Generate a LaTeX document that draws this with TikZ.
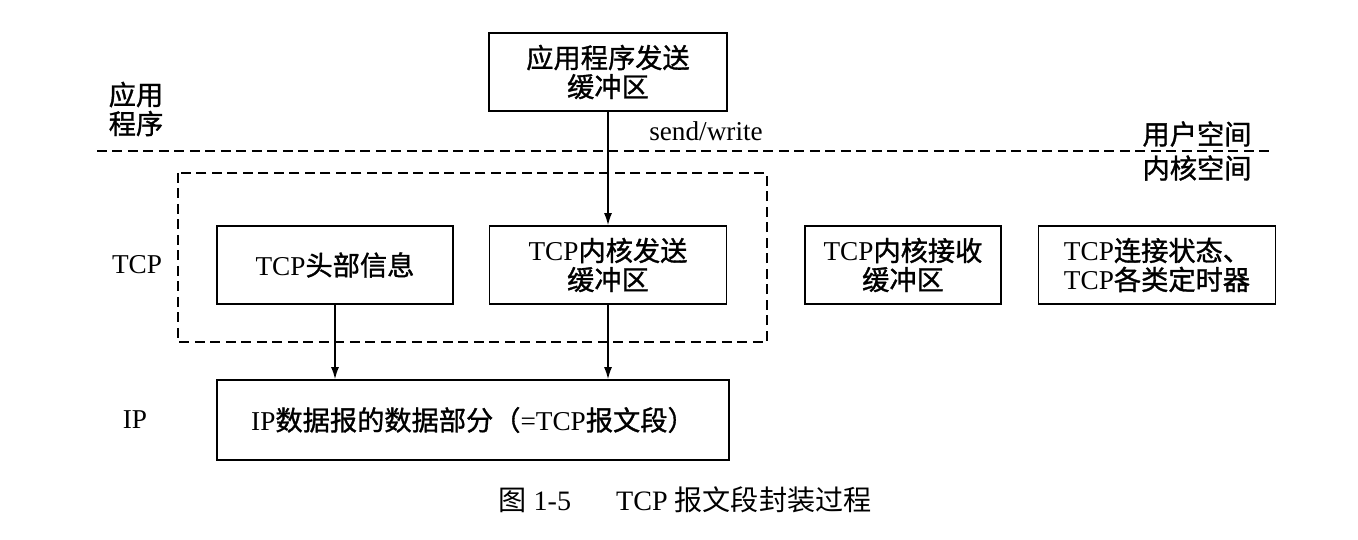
\documentclass[tikz,border=0pt]{standalone}
\usepackage{fontspec}
\usetikzlibrary{arrows.meta}
\setmainfont{Liberation Serif}
\newfontfamily\zhfont{Noto Sans CJK SC}[FakeBold=1.2]
\newfontfamily\zhplain{Noto Sans CJK SC}
\newcommand{\zh}[1]{{\zhfont #1}}
\tikzset{
  buf/.style={draw,line width=1pt,minimum height=1.56cm,align=center,inner sep=2pt,font=\fontsize{15.5}{16.5}\selectfont},
  lbl/.style={align=center,font=\fontsize{15.5}{16.5}\selectfont},
  sep/.style={line width=1pt,dash pattern=on 0.2cm off 0.11cm},
  push/.style={-{Latex[length=2.4mm,width=1.6mm]},line width=0.8pt}
}
\begin{document}
\begin{tikzpicture}[x=0.02cm,y=-0.02cm]
\useasboundingbox (0,0) rectangle (1358,540);
% user space
\node[buf,minimum width=4.76cm] (app) at (608,72) {\zh{应用程序发送}\\\zh{缓冲区}};
\node[lbl] (applbl) at (136,109) {\zh{应用}\\\zh{程序}};
\node[lbl] (sw) at (706,131) {send/write};
\coordinate (sepL) at (97,151);
\coordinate (sepR) at (1272,151);
\draw[sep] (sepL) -- (sepR);
\node[lbl] (user) at (1197,134) {\zh{用户空间}};
\node[lbl] (kern) at (1197,168) {\zh{内核空间}};
% TCP layer
\draw[sep] (178,173) rectangle (767,342);
\node[lbl] (tcplbl) at (137,265) {TCP};
\node[buf,minimum width=4.72cm] (hdr) at (335,265) {TCP\zh{头部信息}};
\node[buf,minimum width=4.74cm] (sbuf) at (608,265) {TCP\zh{内核发送}\\\zh{缓冲区}};
\node[buf,minimum width=3.92cm] (rbuf) at (903,265) {TCP\zh{内核接收}\\\zh{缓冲区}};
\node[buf,minimum width=4.74cm] (state) at (1157,265) {TCP\zh{连接状态、}\\TCP\zh{各类定时器}};
% IP layer
\node[lbl] (iplbl) at (135,420) {IP};
\node[buf,minimum width=10.24cm,minimum height=1.6cm] (ip) at (473,420) {IP\zh{数据报的数据部分（}=TCP\zh{报文段）}};
\draw[push] (app) -- (sbuf);
\draw[push] (hdr.south) -- (hdr.south |- ip.north);
\draw[push] (sbuf.south) -- (sbuf.south |- ip.north);
\node[font=\fontsize{16}{18}\selectfont] (cap) at (685,500) {{\zhplain 图} 1-5\hspace{1.6em}TCP {\zhplain 报文段封装过程}};
\end{tikzpicture}
\end{document}
